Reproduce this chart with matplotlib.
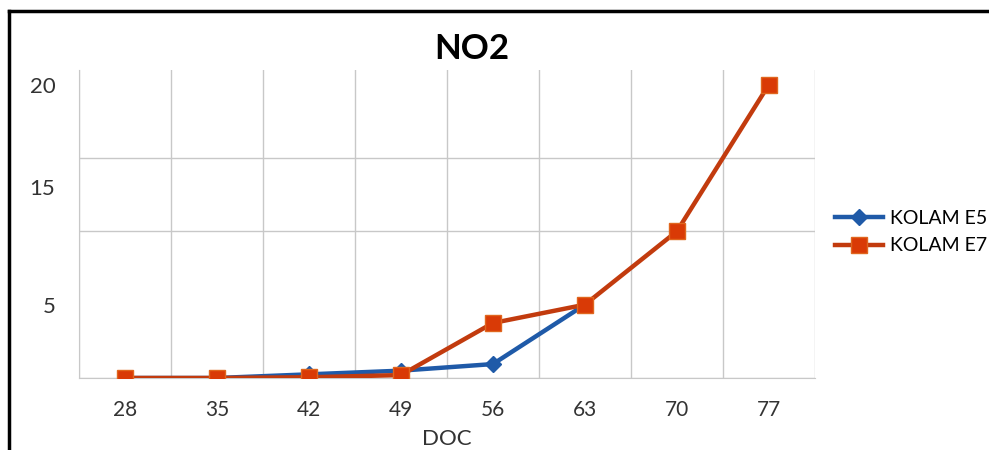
import matplotlib.pyplot as plt
from matplotlib.lines import Line2D

# DATA
doc = ["28", "35", "42", "49", "56", "63", "70", "77"]
kolam_e5 = [0, 0, 0.25, 0.5, 0.95, 5, None, None]
kolam_e7 = [0, 0, 0.05, 0.2, 3.75, 5, 10, 20]
# y tick labels as printed on the original (15 sits off-grid there)
ytick_vals = [5, 13, 20]
ytick_text = ["5", "15", "20"]
grid_vals = [0, 5, 10, 15, 20]

plt.rcParams['font.family'] = ['Lato', 'DejaVu Sans']

fig = plt.figure(figsize=(9.89, 4.5), dpi=100)
ax = fig.add_axes([0.0799, 0.16, 0.744, 0.6844])

x = list(range(len(doc)))
e5 = [float('nan') if v is None else v for v in kolam_e5]
ax.plot(x, e5, color='#1F5AA8', lw=3.2, marker='D', ms=8,
        mfc='#1F5AA8', mec='#1F5AA8', label='KOLAM E5', zorder=3)
ax.plot(x, kolam_e7, color='#C23B0E', lw=3.2, marker='s', ms=12,
        mfc='#D93A06', mec='#E0661E', mew=1, label='KOLAM E7', zorder=4)

ax.set_xlim(-0.5, len(doc) - 0.5)
ax.set_ylim(0, 21)
ax.set_xticks(x)
ax.set_xticklabels(doc)
ax.set_xticks([i - 0.5 for i in range(len(doc) + 1)], minor=True)
ax.set_yticks(ytick_vals)
ax.set_yticklabels(ytick_text)
ax.set_yticks(grid_vals, minor=True)

ax.grid(False)
ax.grid(True, which='minor', color='#C8C8C8', lw=1)
ax.tick_params(which='both', length=0)
ax.tick_params(axis='y', pad=17, labelsize=16, colors='#333333')
ax.tick_params(axis='x', pad=16, labelsize=15, colors='#333333')
for s in ['top', 'right']:
    ax.spines[s].set_visible(False)
for s in ['left', 'bottom']:
    ax.spines[s].set_color('#C8C8C8')
ax.set_xlabel("DOC", fontsize=16, color='#333333', labelpad=6)

fig.text(0.4775, 1 - 49 / 450, "NO2", ha='center', va='center',
         fontsize=25, fontweight='bold', color='black')

fig.legend(loc='center left', bbox_to_anchor=(0.844, 1 - 232 / 450),
           frameon=False, fontsize=14, handlelength=2.5, handletextpad=0.35,
           labelspacing=0.55, borderpad=0, borderaxespad=0)

# outer frame, cut off at right and bottom like the original
top = 1 - 11 / 450
left = 9 / 989
fig.add_artist(Line2D([left, left], [0, top], color='black', lw=2.5))
fig.add_artist(Line2D([left, 1], [top, top], color='black', lw=2.5))

fig.savefig('out.png', dpi=100)
